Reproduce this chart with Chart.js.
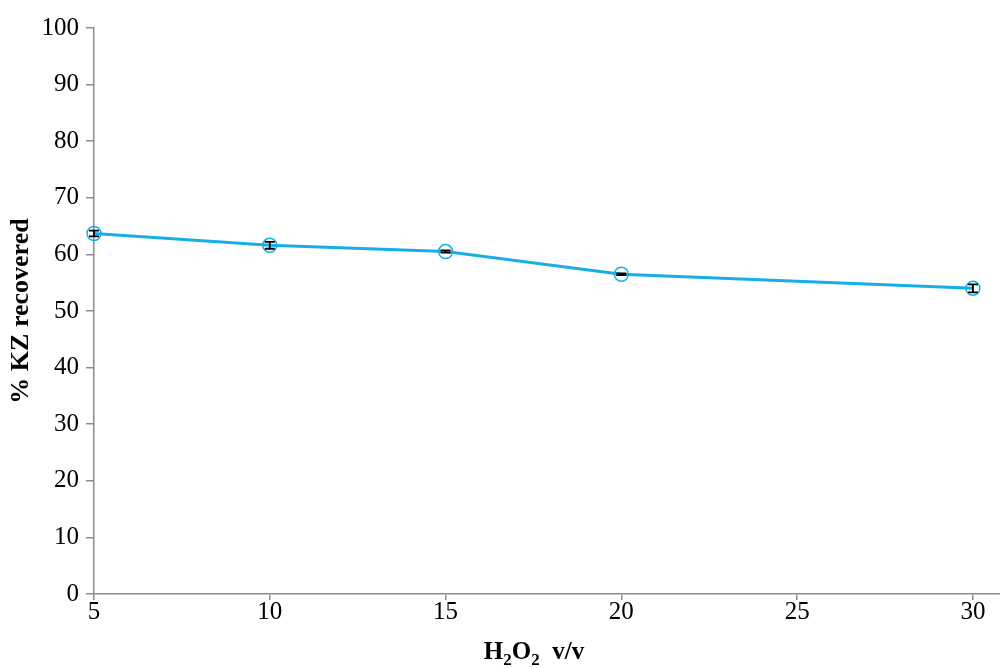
<!DOCTYPE html>
<html>
<head>
<meta charset="utf-8">
<script src="https://cdn.jsdelivr.net/npm/chart.js@4/dist/chart.umd.min.js"></script>
<style>
  html, body { margin: 0; padding: 0; background: #ffffff; }
  #wrap { width: 1000px; height: 668px; position: relative; }
</style>
</head>
<body>
<div id="wrap"><canvas id="c"></canvas></div>
<script>
// H2O2 concentration (% v/v)
const concentrations = [5, 10, 15, 20, 30];
// % KZ recovered at each concentration
const recovered = [63.7, 61.6, 60.5, 56.5, 54.0];
// +/- error on each recovery value
const errors = [0.5, 0.6, 0.2, 0.15, 0.7];
// axis ticks
const xTicks = [5, 10, 15, 20, 25, 30];
const yTicks = [0, 10, 20, 30, 40, 50, 60, 70, 80, 90, 100];

const FONT = "'Liberation Serif', 'Times New Roman', serif";
const AXIS_GREY = '#8c8c8c';
const LINE_BLUE = '#17AEE8';

const points = concentrations.map((x, i) => ({ x: x, y: recovered[i] }));

// Vertical error bars with caps, drawn through the chart scales
const errorBars = {
  id: 'errorBars',
  afterDatasetsDraw(chart) {
    const { ctx, scales: { x, y } } = chart;
    ctx.save();
    ctx.strokeStyle = '#000000';
    ctx.lineWidth = 1.8;
    concentrations.forEach((c, i) => {
      const px = x.getPixelForValue(c);
      const top = y.getPixelForValue(recovered[i] + errors[i]);
      const bot = y.getPixelForValue(recovered[i] - errors[i]);
      ctx.beginPath();
      ctx.moveTo(px, top); ctx.lineTo(px, bot);
      ctx.moveTo(px - 5, top); ctx.lineTo(px + 5, top);
      ctx.moveTo(px - 5, bot); ctx.lineTo(px + 5, bot);
      ctx.stroke();
    });
    ctx.restore();
  }
};

// Axis titles (x title carries subscripts)
const axisTitles = {
  id: 'axisTitles',
  afterDraw(chart) {
    const { ctx } = chart;
    ctx.save();
    ctx.fillStyle = '#000000';
    ctx.textBaseline = 'alphabetic';

    // y title, rotated
    ctx.save();
    ctx.translate(28, 311);
    ctx.rotate(-Math.PI / 2);
    ctx.textAlign = 'center';
    ctx.font = 'bold 26px ' + FONT;
    ctx.fillText('% KZ recovered', 0, 0);
    ctx.restore();

    // x title: H2O2  v/v
    const parts = [
      { t: 'H', sub: false }, { t: '2', sub: true },
      { t: 'O', sub: false }, { t: '2', sub: true },
      { t: '  v/v', sub: false }
    ];
    const big = 'bold 25px ' + FONT;
    const small = 'bold 17px ' + FONT;
    let total = 0;
    parts.forEach(p => { ctx.font = p.sub ? small : big; total += ctx.measureText(p.t).width; });
    let cx = 534 - total / 2;
    const base = 659;
    ctx.textAlign = 'left';
    parts.forEach(p => {
      ctx.font = p.sub ? small : big;
      ctx.fillText(p.t, cx, p.sub ? base + 6 : base);
      cx += ctx.measureText(p.t).width;
    });
    ctx.restore();
  }
};

new Chart(document.getElementById('c'), {
  type: 'scatter',
  data: {
    datasets: [{
      data: points,
      showLine: true,
      borderColor: LINE_BLUE,
      borderWidth: 3,
      pointStyle: 'circle',
      pointRadius: 7,
      pointBorderWidth: 1.5,
      pointBorderColor: LINE_BLUE,
      pointBackgroundColor: 'rgba(255,255,255,0)',
      tension: 0,
      clip: false
    }]
  },
  options: {
    responsive: true,
    maintainAspectRatio: false,
    animation: false,
    layout: { autoPadding: false, padding: { top: 28, right: 0, left: 0, bottom: 0 } },
    plugins: { legend: { display: false }, tooltip: { enabled: false } },
    scales: {
      x: {
        type: 'linear',
        min: 5,
        max: 30.77,
        afterBuildTicks(scale) { scale.ticks = xTicks.map(v => ({ value: v })); },
        afterFit(scale) { scale.height = 74; scale.paddingLeft = 0; scale.paddingRight = 0; },
        border: { color: AXIS_GREY, width: 1.5 },
        grid: { display: true, drawOnChartArea: false, drawTicks: true, tickLength: 6, color: AXIS_GREY, lineWidth: 1.5 },
        ticks: { font: { family: FONT, size: 25 }, color: '#000000', padding: -3, maxRotation: 0 }
      },
      y: {
        type: 'linear',
        min: 0,
        max: 100,
        afterBuildTicks(scale) { scale.ticks = yTicks.map(v => ({ value: v })); },
        afterFit(scale) { scale.width = 94; scale.paddingTop = 0; scale.paddingBottom = 0; },
        border: { color: AXIS_GREY, width: 1.5 },
        grid: { display: true, drawOnChartArea: false, drawTicks: true, tickLength: 8, color: AXIS_GREY, lineWidth: 1.5 },
        ticks: { font: { family: FONT, size: 25 }, color: '#000000', padding: 7 }
      }
    }
  },
  plugins: [errorBars, axisTitles]
});
</script>
</body>
</html>
